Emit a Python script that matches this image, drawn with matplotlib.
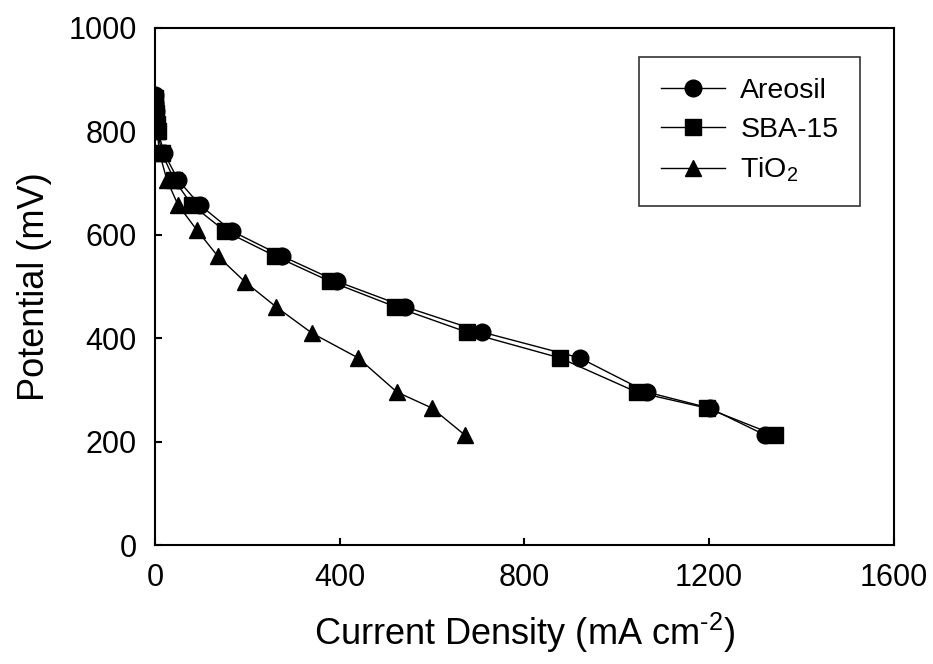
import matplotlib
matplotlib.use("Agg")
import matplotlib.pyplot as plt

plt.rcParams['font.family'] = ['Liberation Sans', 'DejaVu Sans']
plt.rcParams['mathtext.fontset'] = 'custom'
plt.rcParams['mathtext.rm'] = 'Liberation Sans'
plt.rcParams['mathtext.it'] = 'Liberation Sans:italic'

# Areosil
areosil_x = [0, 1, 2, 3, 5, 20, 50, 97, 167, 275, 394, 541, 708, 920, 1065, 1201, 1321]
areosil_y = [870, 855, 840, 820, 805, 758, 706, 658, 607, 559, 510, 461, 412, 362, 296, 265, 213]

# SBA-15
sba_x = [0, 1, 2, 4, 6, 15, 42, 80, 152, 260, 379, 520, 675, 877, 1043, 1195, 1342]
sba_y = [865, 850, 835, 815, 800, 758, 706, 658, 607, 559, 510, 461, 412, 362, 296, 265, 213]

# TiO2
tio2_x = [0, 2, 5, 10, 26, 50, 91, 136, 195, 262, 340, 440, 524, 600, 671]
tio2_y = [860, 830, 800, 758, 706, 658, 609, 559, 509, 461, 410, 362, 296, 265, 213]

x_ticks = [0, 400, 800, 1200, 1600]
y_ticks = [0, 200, 400, 600, 800, 1000]

fig = plt.figure(figsize=(9.33, 6.64), dpi=100)
ax = fig.add_axes([0.166, 0.179, 0.792, 0.779])

ax.plot(areosil_x, areosil_y, 'k-', marker='o', ms=12, lw=1, label='Areosil')
ax.plot(sba_x, sba_y, 'k-', marker='s', ms=11, lw=1, label='SBA-15')
ax.plot(tio2_x, tio2_y, 'k-', marker='^', ms=12, lw=1, label='TiO$_2$')

ax.set_xlim(0, 1600)
ax.set_ylim(0, 1000)
ax.set_xticks(x_ticks)
ax.set_yticks(y_ticks)
ax.tick_params(direction='in', length=5, width=1.5, labelsize=22, pad=13)
for s in ax.spines.values():
    s.set_linewidth(1.5)

ax.set_xlabel(r'Current Density (mA cm$^{\text{-2}}$)', fontsize=26, labelpad=13)
ax.set_ylabel('Potential (mV)', fontsize=26, labelpad=12)

leg = ax.legend(loc='upper right', bbox_to_anchor=(0.954, 0.944), borderaxespad=0,
                fontsize=20.5, frameon=True, fancybox=False, edgecolor='k',
                numpoints=1, handlelength=2.25, handletextpad=0.55,
                borderpad=0.75, labelspacing=0.45)
leg.get_frame().set_linewidth(1.2)

fig.savefig('out.png', dpi=100)
